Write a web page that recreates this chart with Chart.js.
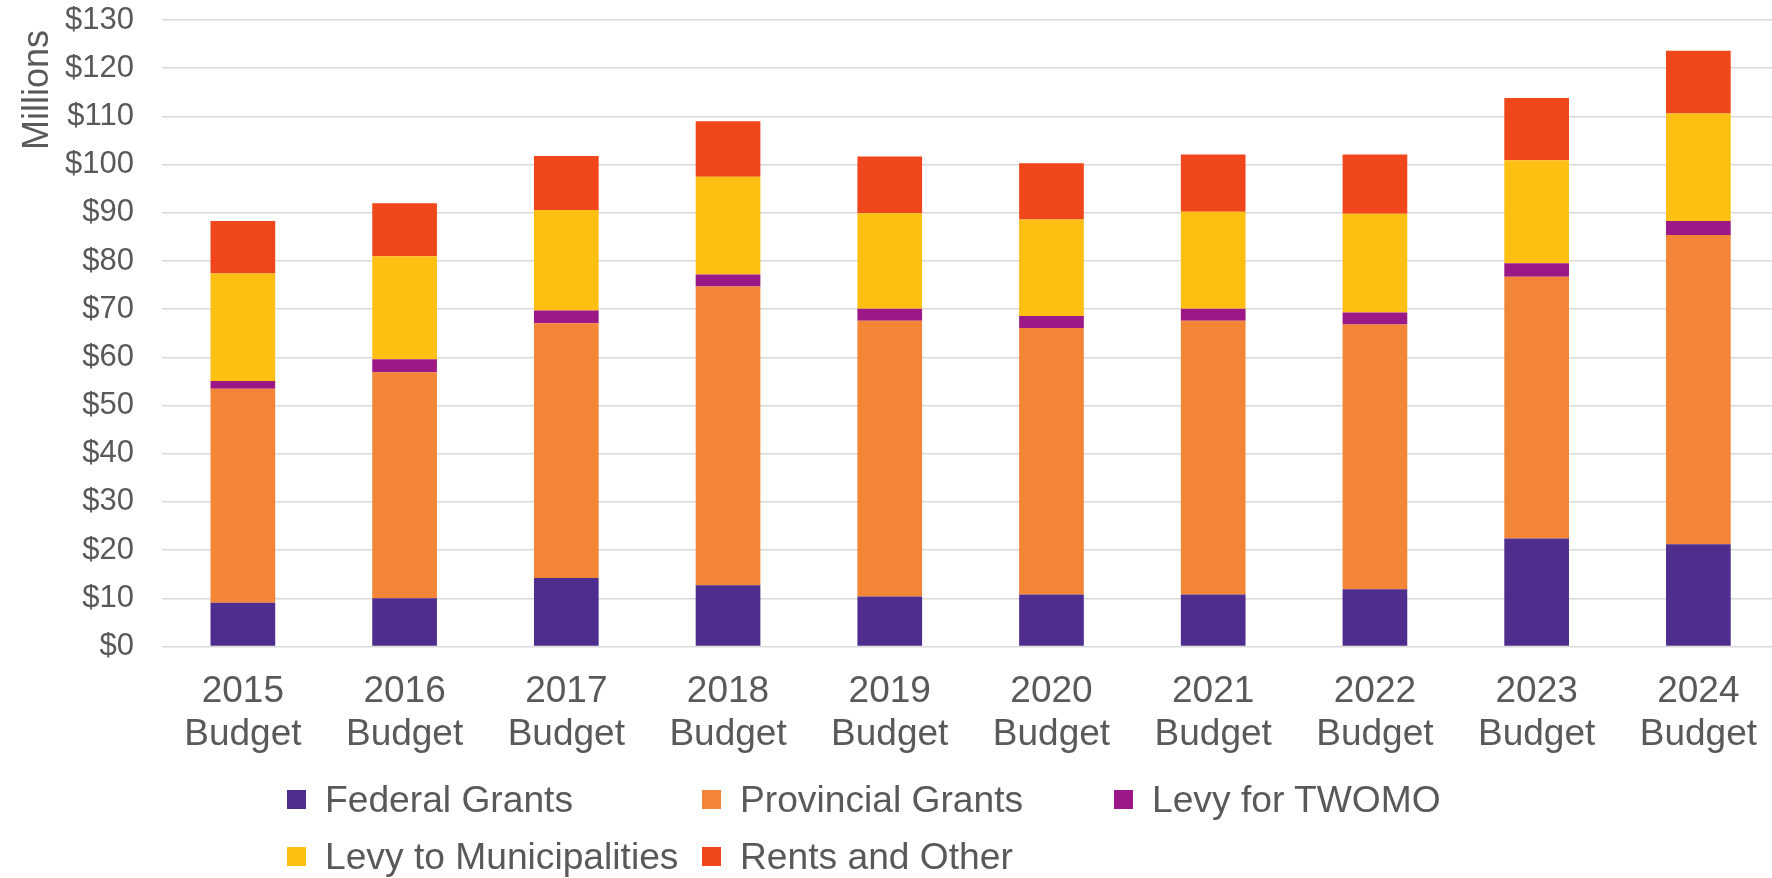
<!DOCTYPE html>
<html>
<head>
<meta charset="utf-8">
<script src="https://cdn.jsdelivr.net/npm/chart.js@4.4.1/dist/chart.umd.min.js"></script>
<style>
  html, body { margin: 0; background: #fff; overflow: hidden; }
  #wrap { position: relative; width: 1772px; height: 878px; overflow: hidden; }
  #chart { position: absolute; left: 0; top: 0; }
  .lg { position: absolute; display: flex; align-items: center; height: 19px;
        font: 37.2px "Liberation Sans", Arial, sans-serif; color: #595959; white-space: nowrap; }
  .lg i { display: inline-block; width: 19px; height: 19px; margin-right: 19px; }
</style>
</head>
<body>
<div id="wrap">
  <canvas id="chart" width="1781" height="878"></canvas>
  <div id="legend"></div>
</div>
<script>
const categories = [
  ["2015", "Budget"], ["2016", "Budget"], ["2017", "Budget"], ["2018", "Budget"], ["2019", "Budget"],
  ["2020", "Budget"], ["2021", "Budget"], ["2022", "Budget"], ["2023", "Budget"], ["2024", "Budget"]
];

// $ millions per source, bottom to top of each stack
const federalGrants      = [9.1, 10.0, 14.2, 12.7, 10.4, 10.8, 10.8, 11.9, 22.4, 21.2];
const provincialGrants   = [44.4, 46.9, 52.9, 62.0, 57.2, 55.3, 56.8, 54.9, 54.3, 64.2];
const levyForTwomo       = [1.6, 2.7, 2.6, 2.5, 2.5, 2.5, 2.5, 2.5, 2.8, 2.9];
const levyToMunicipalities = [22.3, 21.4, 20.9, 20.3, 19.8, 20.0, 20.1, 20.5, 21.4, 22.3];
const rentsAndOther      = [10.9, 11.0, 11.2, 11.5, 11.8, 11.7, 11.9, 12.3, 12.9, 13.0];

const yTicks = [0, 10, 20, 30, 40, 50, 60, 70, 80, 90, 100, 110, 120, 130];

const seriesNames = ["Federal Grants", "Provincial Grants", "Levy for TWOMO", "Levy to Municipalities", "Rents and Other"];
const seriesColors = ["#4E2D8F", "#F38536", "#9C1886", "#FDBF12", "#F0461B"];
const seriesData = [federalGrants, provincialGrants, levyForTwomo, levyToMunicipalities, rentsAndOther];

const textColor = "#595959";
const fontFamily = '"Liberation Sans", Arial, sans-serif';

const datasets = seriesNames.map((name, i) => ({
  label: name,
  data: seriesData[i],
  backgroundColor: seriesColors[i],
  borderWidth: 0,
  barPercentage: 0.4,
  categoryPercentage: 1.0
}));

new Chart(document.getElementById("chart").getContext("2d"), {
  type: "bar",
  data: { labels: categories, datasets: datasets },
  options: {
    responsive: false,
    animation: false,
    devicePixelRatio: 1,
    layout: { padding: { top: 20, left: 0, right: 0, bottom: 0 } },
    plugins: {
      legend: { display: false },
      tooltip: { enabled: false }
    },
    scales: {
      x: {
        stacked: true,
        grid: { display: false, drawTicks: false },
        border: { display: false },
        ticks: {
          color: textColor,
          padding: 24,
          maxRotation: 0,
          font: { family: fontFamily, size: 37, lineHeight: 1.16 }
        },
        afterFit: (scale) => { scale.height = 878 - 646.5; }
      },
      y: {
        stacked: true,
        min: 0,
        max: 130,
        afterBuildTicks: (scale) => { scale.ticks = yTicks.map(v => ({ value: v })); },
        grid: { color: "#D9D9D9", lineWidth: 1.5, drawTicks: false },
        border: { display: false },
        ticks: {
          color: textColor,
          padding: 28,
          font: { family: fontFamily, size: 31 },
          callback: (v) => "$" + v
        },
        title: {
          display: true,
          text: "Millions ",
          align: "end",
          color: textColor,
          padding: { top: 16, bottom: 0 },
          font: { family: fontFamily, size: 36, lineHeight: 1.2 }
        },
        afterFit: (scale) => {
          scale.width = 162;
          scale.paddingTop = 0;
          scale.paddingBottom = 0;
        }
      }
    }
  }
});

// legend laid out in columns like the original
const legendSpots = [[287, 790], [702, 790], [1114, 790], [287, 847], [702, 847]];
const legendEl = document.getElementById("legend");
seriesNames.forEach((name, i) => {
  const d = document.createElement("div");
  d.className = "lg";
  d.style.left = legendSpots[i][0] + "px";
  d.style.top = legendSpots[i][1] + "px";
  d.innerHTML = '<i style="background:' + seriesColors[i] + '"></i><span>' + name + "</span>";
  legendEl.appendChild(d);
});
</script>
</body>
</html>
